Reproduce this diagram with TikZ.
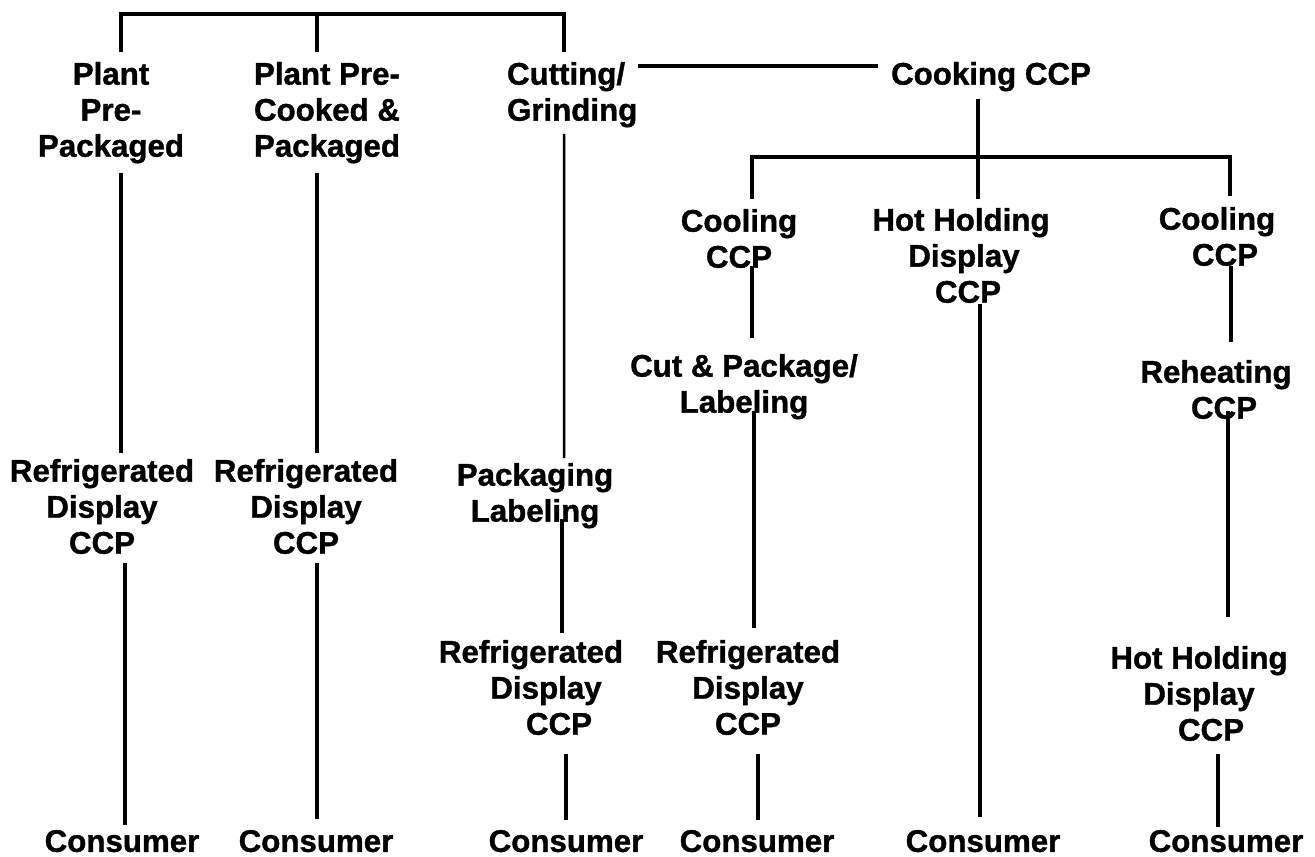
\documentclass[tikz,border=0pt]{standalone}
\usepackage{fontspec}
\setmainfont{Liberation Sans}[BoldFeatures={FakeBold=1.2}]
\usetikzlibrary{calc}

\begin{document}
\begin{tikzpicture}[
    x=0.02cm, y=-0.02cm,
    stage/.style={anchor=north, inner sep=0pt, outer sep=0pt, align=center, font=\bfseries\fontsize{17.8pt}{20.5pt}\selectfont},
    link/.style={line width=0.075cm},
    thinlink/.style={line width=0.05cm}
]
\useasboundingbox (0,0) rectangle (1315,856);

% --- Fila superior: origen del producto ---
\node[stage] (plantpk) at (111,62) {Plant\\Pre-\\Packaged};
\node[stage] (plantck) at (327,62) {Plant Pre-\\Cooked \&\\Packaged};
\node[stage, anchor=north west, align=left] (cutgrind) at (507,62) {Cutting/\\Grinding};
\node[stage] (cooking) at (991,62) {Cooking CCP};

% --- Rama de coccion ---
\node[stage] (coolA) at (739,209) {Cooling\\CCP};
\node[stage] (hhA) at (961,208) {Hot Holding\\\hspace*{0.12cm}Display\\\hspace*{0.28cm}CCP};
\node[stage] (coolB) at (1217,207) {Cooling\\\hspace*{0.32cm}CCP};
\node[stage] (cutpk) at (744,354) {Cut \& Package/\\Labeling};
\node[stage] (reheat) at (1216,360) {Reheating\\\hspace*{0.32cm}CCP};

% --- Exhibicion ---
\node[stage] (pklab) at (535,463) {Packaging\\Labeling};
\node[stage] (refA) at (102,459) {Refrigerated\\Display\\CCP};
\node[stage] (refB) at (306,459) {Refrigerated\\Display\\CCP};
\node[stage] (refC) at (531,640) {Refrigerated\\\hspace*{0.6cm}Display\\\hspace*{1.12cm}CCP};
\node[stage] (refD) at (748,640) {Refrigerated\\Display\\CCP};
\node[stage] (hhB) at (1199,646) {Hot Holding\\Display\\\hspace*{0.48cm}CCP};

% --- Consumidor ---
\node[stage] (cons1) at (122,830) {Consumer};
\node[stage] (cons2) at (316,830) {Consumer};
\node[stage] (cons3) at (566,830) {Consumer};
\node[stage] (cons4) at (757,830) {Consumer};
\node[stage] (cons5) at (983,830) {Consumer};
\node[stage] (cons6) at (1226,830) {Consumer};

% --- Conexiones: barra superior ---
\coordinate (jtop) at (317,14);
\draw[link] ($(plantpk.north)+(10,-10)$) |- (jtop) -| ($(cutgrind.north west)+(57,-10)$);
\draw[link] (jtop) -- ($(plantck.north)+(-10,-10)$);
\draw[link] ($(cutgrind.north east)+(1,4)$) -- ($(cooking.north west)+(-13,4)$);

% --- Conexiones: coccion ---
\coordinate (jcook) at (978,157);
\draw[link] ($(cooking.south)+(-13,7.5)$) -- ($(hhA.north)+(17,-9)$);
\draw[link] ($(coolA.north)+(13,-10)$) |- (jcook) -| ($(coolB.north)+(13,-11)$);
\draw[link] ($(coolA.south)+(13,-2)$) -- ($(cutpk.north)+(8,-16)$);
\draw[link] ($(cutpk.south)+(10,-8.5)$) -- ($(refD.north)+(6,-12)$);
\draw[link] ($(coolB.south)+(14,0)$) -- ($(reheat.north)+(15,-18)$);
\draw[link] ($(reheat.south)+(12,-8)$) -- ($(hhB.north)+(29,-29)$);

% --- Conexiones: productos de planta y molido ---
\draw[link] ($(plantpk.south)+(10,9.5)$) -- ($(refA.north)+(19,-6)$);
\draw[link] ($(plantck.south)+(-10,9.5)$) -- ($(refB.north)+(11,-6)$);
\draw[thinlink] ($(cutgrind.south)+(-8,6.5)$) -- ($(pklab.north)+(29,-5)$);
\draw[link] ($(pklab.south)+(27,-9.5)$) -- ($(refC.north)+(31,-7)$);

% --- Conexiones: hacia el consumidor ---
\draw[link] ($(refA.south)+(23,9)$) -- ($(cons1.north)+(3,-5)$);
\draw[link] ($(refB.south)+(11,9)$) -- ($(cons2.north)+(1,-11)$);
\draw[link] ($(refC.south)+(35,19)$) -- ($(cons3.north)+(0,-10)$);
\draw[link] ($(refD.south)+(10,19)$) -- ($(cons4.north)+(1,-10)$);
\draw[link] ($(hhA.south)+(19,1)$) -- ($(cons5.north)+(-3,-13)$);
\draw[link] ($(hhB.south)+(19,13)$) -- ($(cons6.north)+(-8,-3)$);

\end{tikzpicture}
\end{document}
